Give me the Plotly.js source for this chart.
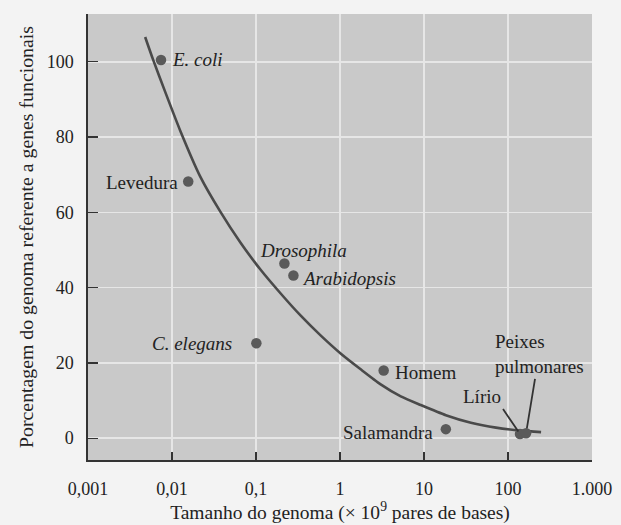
<!DOCTYPE html>
<html>
<head>
<meta charset="utf-8">
<script src="https://cdn.plot.ly/plotly-3.0.1.min.js"></script>
<style>html,body{margin:0;padding:0;background:#f3f3f3;}#chart{width:621px;height:525px;}</style>
</head>
<body>
<div id="chart"></div>
<script>
// Organisms: genome size (×10^9 bp) and % of genome coding for functional genes
const organisms = ["E. coli", "Levedura", "Drosophila", "Arabidopsis", "C. elegans", "Homem", "Salamandra", "Lírio", "Peixes pulmonares"];
const genomeSize = [0.0074, 0.0156, 0.218, 0.279, 0.101, 3.31, 18.2, 139, 164];
const percentFunctional = [100.5, 68.2, 46.4, 43.2, 25.2, 18.0, 2.4, 1.1, 1.3];

// Fitted trend curve
const curveX = [0.00479, 0.00597, 0.0083, 0.01253, 0.0217, 0.0376, 0.0652, 0.1129, 0.1955, 0.3387, 0.587, 1.017, 1.762, 3.05, 5.29, 9.16, 18.2, 36.2, 71.9, 142.9, 247.6];
const curveY = [106.6, 100.5, 92.0, 81.7, 69.5, 60.2, 52.0, 44.8, 38.5, 32.6, 27.3, 22.5, 18.3, 14.3, 11.1, 8.8, 6.1, 4.1, 2.8, 2.0, 1.6];

// Axis ticks
const xTickVals = [0.001, 0.01, 0.1, 1, 10, 100, 1000];
const xTickText = ["0,001", "0,01", "0,1", "1", "10", "100", "1.000"];
const yTickVals = [0, 20, 40, 60, 80, 100];

// Label placement (pixel offsets from each point); labels with a leader line use ax/ay
const labelText = ["<i>E. coli</i>", "Levedura", "<i>Drosophila</i>", "<i>Arabidopsis</i>", "<i>C. elegans</i>", "Homem", "Salamandra", "Lírio", "Peixes<br>pulmonares"];
const labelAnchor = ["left", "right", "center", "left", "right", "left", "right", "right", "center"];
const labelVAnchor = ["middle", "middle", "middle", "middle", "middle", "middle", "middle", "bottom", "middle"];
const labelDX = [9, -8, 19, 7, -22, 9, -11, 0, 0];
const labelDY = [0, -1, 13, -3, 0, -2, -3, 0, 0];
const leaderAX = [null, null, null, null, null, null, null, -17, 13];
const leaderAY = [null, null, null, null, null, null, null, -25, -79];
const leaderStandoff = [0, 0, 0, 0, 0, 0, 0, 3, 5];

const FONT = "Liberation Serif, Times New Roman, serif";
const INK = "#222222";

const annotations = organisms.map((o, i) => {
  const a = {
    x: Math.log10(genomeSize[i]), y: percentFunctional[i], xref: "x", yref: "y",
    text: labelText[i], xanchor: labelAnchor[i], yanchor: labelVAnchor[i],
    xshift: labelDX[i], yshift: labelDY[i], align: "left",
    font: {family: FONT, size: 19, color: INK}, showarrow: false
  };
  if (leaderAX[i] !== null) {
    Object.assign(a, {showarrow: true, arrowhead: 0, arrowwidth: 1.8, arrowcolor: "#333333",
      ax: leaderAX[i], ay: leaderAY[i], standoff: leaderStandoff[i]});
  }
  return a;
});

const traces = [
  {x: curveX, y: curveY, type: "scatter", mode: "lines",
   line: {color: "#4a4a4a", width: 2.6, shape: "spline", smoothing: 0.6}, hoverinfo: "skip"},
  {x: genomeSize, y: percentFunctional, type: "scatter", mode: "markers",
   marker: {color: "#5a5a5a", size: 10.5}, text: organisms}
];

const layout = {
  width: 621, height: 525,
  margin: {l: 88, r: 29, t: 14, b: 65},
  paper_bgcolor: "#f3f3f3", plot_bgcolor: "#c9c9c9",
  showlegend: false,
  font: {family: FONT, size: 18, color: INK},
  xaxis: {
    type: "log", range: [-3, 3],
    tickvals: xTickVals, ticktext: xTickText,
    ticks: "inside", ticklen: 8, tickwidth: 1.3, tickcolor: "#333",
    ticklabelstandoff: 12,
    showline: true, linecolor: "#333", linewidth: 1.6,
    showgrid: true, gridcolor: "#e6e6e6", gridwidth: 1.5,
    zeroline: false,
    tickfont: {family: FONT, size: 18, color: INK},
    title: {text: "Tamanho do genoma (× 10<sup>9</sup> pares de bases)", font: {family: FONT, size: 19.5, color: INK}, standoff: 0}
  },
  yaxis: {
    range: [-5.8, 112.7],
    tickvals: yTickVals,
    ticks: "inside", ticklen: 10, tickwidth: 1.3, tickcolor: "#333",
    ticklabelstandoff: 9,
    showline: true, linecolor: "#333", linewidth: 1.6,
    showgrid: true, gridcolor: "#e6e6e6", gridwidth: 1.5,
    zeroline: false,
    tickfont: {family: FONT, size: 18, color: INK},
    title: {text: "Porcentagem do genoma referente a genes funcionais", font: {family: FONT, size: 19.8, color: INK}, standoff: 8}
  },
  annotations: annotations
};

Plotly.newPlot("chart", traces, layout, {displayModeBar: false, staticPlot: true});
</script>
</body>
</html>
